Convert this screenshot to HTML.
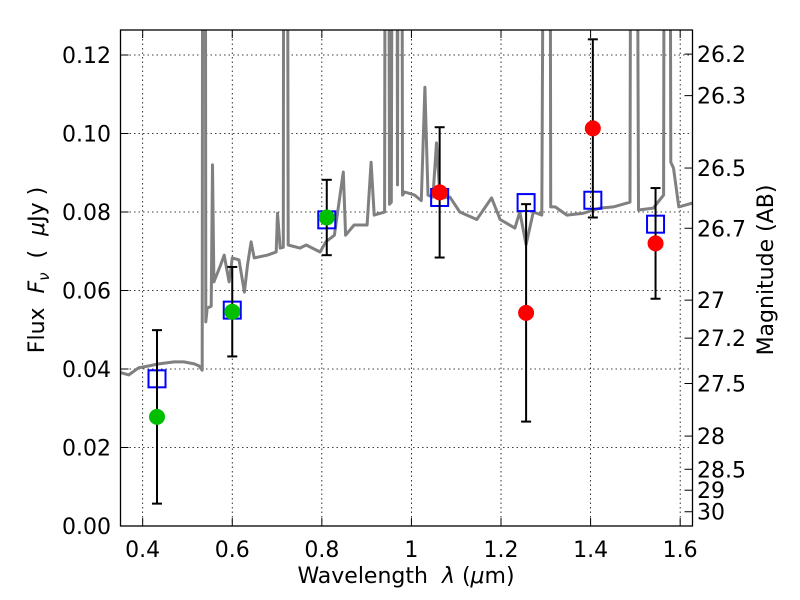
<!DOCTYPE html>
<html><head><meta charset="utf-8"><style>
body{margin:0;background:#fff;}
svg{display:block;font-family:"DejaVu Sans","Liberation Sans",sans-serif;}
</style></head><body>
<svg id="chart" width="800" height="600" viewBox="0 0 800 600">
<defs><clipPath id="plotclip"><rect x="120.5" y="30" width="572" height="496"/></clipPath></defs>
<rect x="0" y="0" width="800" height="600" fill="#fff"/>
<g id="grid"></g>
<g id="spec" clip-path="url(#plotclip)"></g>
<g id="marks" clip-path="url(#plotclip)"></g>
<g id="axes"></g>
<text x="406" y="583" text-anchor="middle" font-size="22" xml:space="preserve" style="white-space:pre">Wavelength  <tspan font-style="italic">λ</tspan> (<tspan font-style="italic">μ</tspan>m)</text>
<text transform="translate(44,270) rotate(-90)" text-anchor="middle" font-size="22" xml:space="preserve" style="white-space:pre">Flux  <tspan font-style="italic">F</tspan><tspan font-style="italic" font-size="15" dy="5">ν</tspan><tspan dy="-5">  (  </tspan><tspan font-style="italic">μ</tspan>Jy )</text>
<text transform="translate(773,270) rotate(-90)" text-anchor="middle" font-size="22">Magnitude (AB)</text>
</svg>
<script>
const specLam=[0.347,0.369,0.391,0.414,0.436,0.470,0.492,0.515,0.526,0.533,0.535,0.539,0.541,0.544,0.553,0.556,0.559,0.574,0.582,0.593,0.600,0.615,0.627,0.634,0.642,0.649,0.678,0.698,0.701,0.707,0.714,0.716,0.721,0.725,0.751,0.765,0.796,0.809,0.828,0.848,0.853,0.872,0.901,0.910,0.917,0.940,0.943,0.947,0.951,0.955,0.960,0.966,0.969,0.972,0.977,0.980,0.985,1.007,1.022,1.030,1.037,1.048,1.056,1.064,1.086,1.108,1.146,1.179,1.198,1.231,1.242,1.256,1.272,1.291,1.300,1.308,1.311,1.321,1.347,1.384,1.421,1.451,1.488,1.492,1.500,1.507,1.540,1.563,1.566,1.575,1.579,1.585,1.597,1.628];
const specFlux=[0.0392,0.0385,0.0403,0.0408,0.0413,0.0418,0.0418,0.0413,0.0408,0.0397,0.30,0.30,0.052,0.0555,0.056,0.092,0.0622,0.0665,0.069,0.0622,0.0683,0.0678,0.0596,0.0665,0.0724,0.0683,0.069,0.0698,0.0797,0.0708,0.071,0.30,0.30,0.0716,0.0708,0.0716,0.0698,0.0724,0.0741,0.0902,0.0741,0.0767,0.0767,0.0927,0.0792,0.080,0.30,0.30,0.082,0.0825,0.30,0.30,0.0869,0.30,0.30,0.0843,0.0851,0.0843,0.0829,0.1118,0.0843,0.0838,0.0976,0.0835,0.0838,0.080,0.0781,0.0836,0.0781,0.0759,0.080,0.0717,0.080,0.0792,0.30,0.30,0.0813,0.0813,0.0792,0.0797,0.081,0.0813,0.0825,0.30,0.30,0.0805,0.081,0.0843,0.30,0.30,0.0927,0.0912,0.0813,0.0823];
const photLam=[0.432,0.600,0.811,1.063,1.256,1.405,1.545];
const photFlux=[0.0278,0.0546,0.0786,0.0850,0.0543,0.1013,0.0720];
const photErr=[0.0221,0.0114,0.0096,0.0166,0.0277,0.0227,0.0141];
const photColor=['g','g','g','r','r','r','r'];
const modelFlux=[0.0375,0.0550,0.0780,0.0837,0.0824,0.0830,0.0769];
const xTicks=[0.4,0.6,0.8,1.0,1.2,1.4,1.6];
const xTickLabels=['0.4','0.6','0.8','1','1.2','1.4','1.6'];
const yTicks=[0,0.02,0.04,0.06,0.08,0.10,0.12];
const yTickLabels=['0.00','0.02','0.04','0.06','0.08','0.10','0.12'];
const magTicks=[26.2,26.3,26.5,26.7,27,27.2,27.5,28,28.5,29,30];
const magLabels=['26.2','26.3','26.5','26.7','27','27.2','27.5','28','28.5','29','30'];

const X0=120.5,X1=692.5,Y0=30,Y1=526;
const xmin=0.3505,xmax=1.6275,ymin=0,ymax=0.12637;
const sx=v=>X0+(v-xmin)/(xmax-xmin)*(X1-X0);
const sy=v=>Y1-(v-ymin)/(ymax-ymin)*(Y1-Y0);
const NS='http://www.w3.org/2000/svg';
function mk(tag,parent,attrs){const e=document.createElementNS(NS,tag);for(const k in attrs)e.setAttribute(k,attrs[k]);parent.appendChild(e);return e;}
const grid=document.getElementById('grid'),spec=document.getElementById('spec'),marks=document.getElementById('marks'),axes=document.getElementById('axes');

xTicks.forEach(t=>{const l=mk('line',grid,{x1:sx(t),x2:sx(t),y1:Y0,y2:Y1,stroke:'#000','stroke-width':0.8,'stroke-dasharray':'1.5,3'});

});
yTicks.forEach(t=>{const l=mk('line',grid,{x1:X0,x2:X1,y1:sy(t),y2:sy(t),stroke:'#000','stroke-width':0.8,'stroke-dasharray':'1.5,3'});

});

let d='';specLam.forEach((l,i)=>{d+=(i?'L':'M')+sx(l).toFixed(1)+','+sy(specFlux[i]).toFixed(1);});
const sp=mk('path',spec,{d:d,fill:'none',stroke:'#808080','stroke-width':3,'stroke-linejoin':'round'});



photLam.forEach((l,i)=>{const x=sx(l),y=sy(modelFlux[i]);
const s=mk('rect',marks,{x:x-8.5,y:y-8.5,width:17,height:17,fill:'none',stroke:'#0000ff','stroke-width':2});

});
photLam.forEach((l,i)=>{const x=sx(l),yt=sy(photFlux[i]+photErr[i]),yb=sy(photFlux[i]-photErr[i]);
const g=mk('g',marks,{stroke:'#000','stroke-width':2});


mk('line',g,{x1:x,x2:x,y1:yt,y2:yb});mk('line',g,{x1:x-5,x2:x+5,y1:yt,y2:yt});mk('line',g,{x1:x-5,x2:x+5,y1:yb,y2:yb});});
photLam.forEach((l,i)=>{const c=mk('circle',marks,{cx:sx(l),cy:sy(photFlux[i]),r:8,fill:photColor[i]=='g'?'#00bf00':'#ff0000'});

});

const fr=mk('rect',axes,{x:X0,y:Y0,width:X1-X0,height:Y1-Y0,fill:'none',stroke:'#000','stroke-width':1.3});


xTicks.forEach((t,i)=>{const x=sx(t);mk('line',axes,{x1:x,x2:x,y1:Y1,y2:Y1-8,stroke:'#000','stroke-width':1});mk('line',axes,{x1:x,x2:x,y1:Y0,y2:Y0+8,stroke:'#000','stroke-width':1});
const tx=mk('text',axes,{x:x,y:557,'text-anchor':'middle','font-size':22});tx.textContent=xTickLabels[i];

});
yTicks.forEach((t,i)=>{const y=sy(t);mk('line',axes,{x1:X0,x2:X0+8,y1:y,y2:y,stroke:'#000','stroke-width':1});
const tx=mk('text',axes,{x:111,y:y+8,'text-anchor':'end','font-size':22});tx.textContent=yTickLabels[i];

});
magTicks.forEach((m,i)=>{const y=sy(Math.pow(10,(23.9-m)/2.5));mk('line',axes,{x1:X1,x2:X1-8,y1:y,y2:y,stroke:'#000','stroke-width':1});
const tx=mk('text',axes,{x:697,y:y+8,'font-size':22});tx.textContent=magLabels[i];

});
</script>
</body></html>
